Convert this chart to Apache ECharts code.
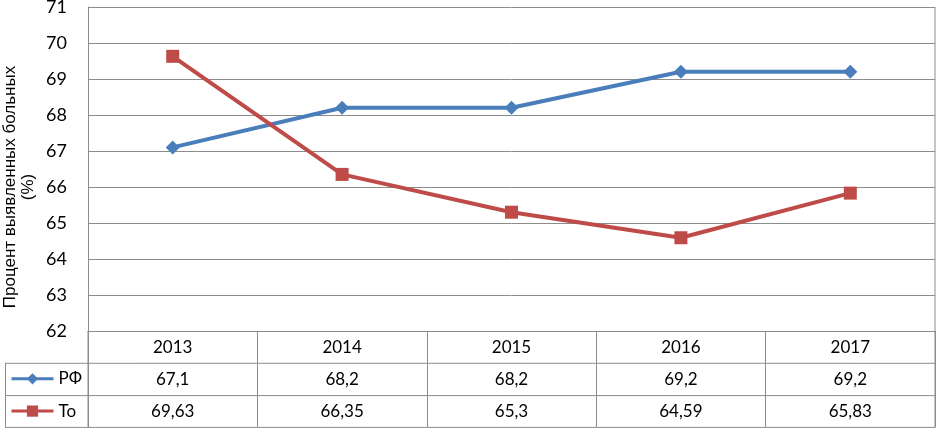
<!DOCTYPE html>
<html><head><meta charset="utf-8">
<script src="https://cdn.jsdelivr.net/npm/echarts@6/dist/echarts.min.js"></script>
<style>html,body{margin:0;padding:0;background:#fff}#c{width:937px;height:428px}</style>
</head><body><div id="c"></div>
<script>
const categories = ['2013','2014','2015','2016','2017'];
const seriesNames = ['РФ','То'];
const rfValues = [67.1, 68.2, 68.2, 69.2, 69.2];
const toValues = [69.63, 66.35, 65.3, 64.59, 65.83];
const yName = 'Процент выявленных больных\n(%)';

const fmt = v => String(v).replace('.', ',');
const FONT = 'Lato';
const grey = '#8c8c8c';
const chart = echarts.init(document.getElementById('c'));
const W = 937, H = 428;
const gL = 88, gR = 935, gT = 7, gB = 331, row = 32.3;
const tableLeft = 5;
const legendBase = {
  orient: 'vertical', left: 10, padding: 0, itemWidth: 42, itemHeight: 14,
  lineStyle: {width: 3},
  textStyle: {fontFamily: FONT, fontSize: 17, color: '#000'}
};

chart.setOption({
  animation: false,
  textStyle: {fontFamily: FONT},
  grid: {left: gL, right: W - gR, top: gT, bottom: H - gB, containLabel: false, outerBoundsMode: 'none'},
  legend: [
    Object.assign({}, legendBase, {top: gB + row + 7, data: [seriesNames[0]]}),
    Object.assign({}, legendBase, {top: gB + 2*row + 7, data: [seriesNames[1]]})
  ],
  xAxis: {
    type: 'category', data: categories, boundaryGap: true,
    axisLine: {lineStyle: {color: grey, width: 1}},
    axisTick: {show: true, length: H - gB - 1, lineStyle: {color: grey}},
    axisLabel: {
      margin: 0, interval: 0,
      formatter: (v, i) => '{a|' + v + '}\n{a|' + fmt(rfValues[i]) + '}\n{a|' + fmt(toValues[i]) + '}',
      rich: {a: {fontFamily: FONT, fontSize: 17, color: '#000', lineHeight: row, height: row}}
    }
  },
  yAxis: {
    type: 'value', min: 62, max: 71, interval: 1,
    axisLine: {show: true, lineStyle: {color: grey}},
    axisTick: {show: false},
    splitLine: {lineStyle: {color: grey, width: 1}},
    axisLabel: {fontFamily: FONT, fontSize: 18, color: '#000', margin: 21}
  },
  series: [
    {name: seriesNames[0], type: 'line', data: rfValues, symbol: 'diamond', symbolSize: 14,
     lineStyle: {color: '#4a7ebb', width: 4}, itemStyle: {color: '#4a7ebb'}},
    {name: seriesNames[1], type: 'line', data: toValues, symbol: 'rect', symbolSize: 13,
     lineStyle: {color: '#be4b48', width: 4}, itemStyle: {color: '#be4b48'}}
  ],
  graphic: [
    {type: 'text', x: 19, y: (gT + gB) / 2 + 18, rotation: Math.PI / 2,
     style: {text: yName, fontFamily: 'Liberation Sans', fontSize: 17, lineHeight: 18, fill: '#000',
             align: 'center', verticalAlign: 'middle'}},
    {type: 'line', shape: {x1: tableLeft, y1: gB + row, x2: gR, y2: gB + row}, style: {stroke: grey, lineWidth: 1}},
    {type: 'line', shape: {x1: tableLeft, y1: gB + 2*row, x2: gR, y2: gB + 2*row}, style: {stroke: grey, lineWidth: 1}},
    {type: 'line', shape: {x1: tableLeft, y1: gB + 3*row - 0.5, x2: gR, y2: gB + 3*row - 0.5}, style: {stroke: grey, lineWidth: 1}},
    {type: 'line', shape: {x1: tableLeft + 0.5, y1: gB + row, x2: tableLeft + 0.5, y2: gB + 3*row}, style: {stroke: grey, lineWidth: 1}},
    {type: 'line', shape: {x1: gL, y1: gB, x2: gL, y2: gB + 3*row}, style: {stroke: grey, lineWidth: 1}},
    {type: 'line', shape: {x1: gR, y1: gT, x2: gR, y2: gB + 3*row}, style: {stroke: grey, lineWidth: 1}}
  ]
});
</script></body></html>
